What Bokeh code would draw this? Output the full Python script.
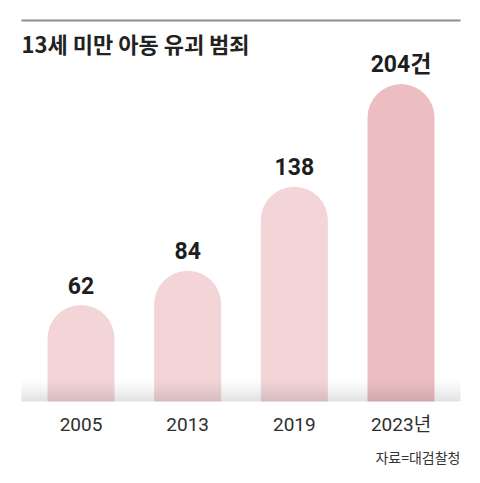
from bokeh.plotting import figure
from bokeh.models import ColumnDataSource, Range1d
from bokeh.core.properties import value
from bokeh.embed import file_html
from bokeh.resources import INLINE

# data
years = ["2005", "2013", "2019", "2023"]
year_labels = ["2005", "2013", "2019", "2023년"]
counts = [62, 84, 138, 204]
count_labels = ["62", "84", "138", "204건"]
bar_colors = ["#f3d5d8", "#f3d5d8", "#f3d5d8", "#ecbec2"]

title = "13세 미만 아동 유괴 범죄"
source_note = "자료=대검찰청"

W, H = 480, 483
UNIT_X = 106.67   # px per bar slot
UNIT_Y = 1.556    # px per case
BASE = 401        # baseline, px from top
X0 = -80.5 / UNIT_X

NUM_FONT = value("'Roboto', 'Noto Sans CJK KR', sans-serif")
KR = value("'Noto Sans CJK KR', sans-serif")


def px_x(px):
    return X0 + px / UNIT_X


def px_y(py):
    return (BASE - py) / UNIT_Y


p = figure(width=W, height=H, output_backend="svg", toolbar_location=None,
           x_range=Range1d(X0, X0 + W / UNIT_X),
           y_range=Range1d(-(H - BASE) / UNIT_Y, BASE / UNIT_Y),
           min_border=0)
p.axis.visible = False
p.grid.visible = False
p.outline_line_color = None
p.background_fill_color = "white"
p.border_fill_color = "white"

src = ColumnDataSource(dict(x=list(range(len(years))), top=counts,
                            color=bar_colors, label=count_labels,
                            year=year_labels))

p.vbar(x="x", top="top", bottom=0, width=67 / UNIT_X, source=src,
       fill_color="color", line_color=None,
       border_radius=(34, 34, 0, 0))

# soft grey shadow along the floor
n = 16
for i in range(n):
    t0 = 377 + i * 24 / n
    t1 = 377 + (i + 1) * 24 / n
    p.quad(left=px_x(21), right=px_x(460), top=px_y(t0), bottom=px_y(t1),
           fill_color="black", fill_alpha=0.12 * ((i + 0.5) / n) ** 1.3,
           line_color=None)

# value labels
p.text(x="x", y="top", text="label", source=src, y_offset=-20,
       text_align="center", text_baseline="middle",
       text_font=NUM_FONT, text_font_size="23px", text_font_style="bold",
       text_color="#1e1e1e")

# year labels
p.text(x="x", y=0, text="year", source=src, y_offset=23,
       text_align="center", text_baseline="middle",
       text_font=NUM_FONT, text_font_size="19px", text_color="#2e2e2e")

# top rule and title
p.segment(x0=px_x(21), x1=px_x(460), y0=px_y(20), y1=px_y(20),
          line_color="#8c8c8c", line_width=2)
p.text(x=[px_x(21)], y=[px_y(42)], text=[title], text_align="left",
       text_baseline="middle", text_font=KR, text_font_size="22px",
       text_font_style="bold", text_color="#222222")

p.text(x=[px_x(460)], y=[px_y(456)], text=[source_note], text_align="right",
       text_baseline="middle", text_font=KR, text_font_size="14px",
       text_color="#333333")

open("out.html", "w").write(file_html(p, INLINE))
